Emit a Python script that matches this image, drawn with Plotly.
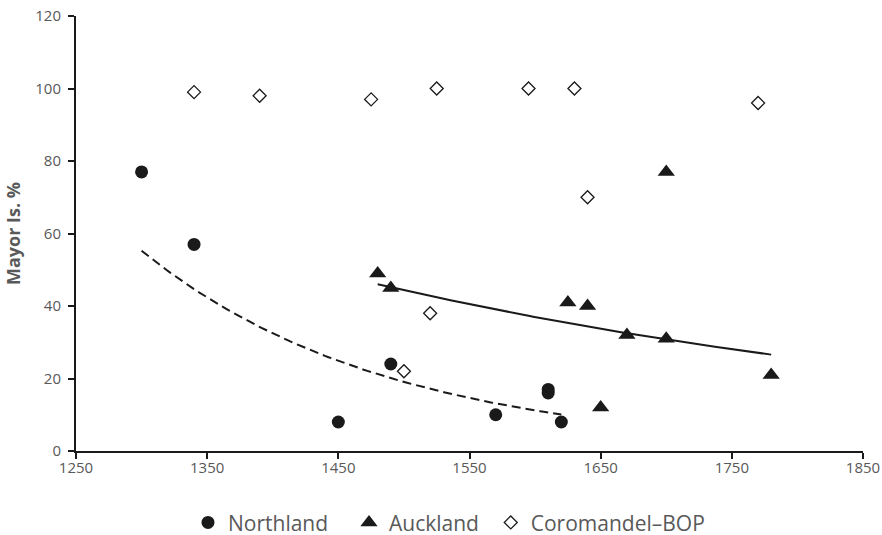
import numpy as np
import plotly.graph_objects as go

# Data
north_x = [1300, 1340, 1450, 1490, 1570, 1610, 1610, 1620]
north_y = [77, 57, 8, 24, 10, 17, 16, 8]

auck_x = [1480, 1490, 1625, 1640, 1650, 1670, 1700, 1700, 1780]
auck_y = [49, 45, 41, 40, 12, 32, 31, 77, 21]

coro_x = [1340, 1390, 1475, 1500, 1520, 1525, 1595, 1630, 1640, 1770]
coro_y = [99, 98, 97, 22, 38, 100, 100, 100, 70, 96]

x_ticks = [1250, 1350, 1450, 1550, 1650, 1750, 1850]
y_ticks = [0, 20, 40, 60, 80, 100, 120]

INK = "#1a1a1a"
GRAY = "#595959"
FONT = "Open Sans"


def exp_trend(xs, ys, n=120):
    xs = np.asarray(xs, float)
    ys = np.asarray(ys, float)
    b, a = np.polyfit(xs, np.log(ys), 1)
    xx = np.linspace(xs.min(), xs.max(), n)
    return xx, np.exp(a + b * xx)


fig = go.Figure()

nx, ny = exp_trend(north_x, north_y)
fig.add_trace(go.Scatter(x=nx, y=ny, mode="lines", showlegend=False,
                         line=dict(color=INK, width=2, dash="9px,5px"),
                         hoverinfo="skip"))
ax, ay = exp_trend(auck_x, auck_y)
fig.add_trace(go.Scatter(x=ax, y=ay, mode="lines", showlegend=False,
                         line=dict(color=INK, width=2),
                         hoverinfo="skip"))

fig.add_trace(go.Scatter(x=north_x, y=north_y, mode="markers", name="Northland",
                         legend="legend",
                         marker=dict(symbol="circle", size=13, color=INK)))
fig.add_trace(go.Scatter(x=auck_x, y=auck_y, mode="markers", name="Auckland",
                         legend="legend2",
                         marker=dict(symbol="triangle-up", size=15, color=INK)))
fig.add_trace(go.Scatter(x=coro_x, y=coro_y, mode="markers", name="Coromandel–BOP",
                         legend="legend3",
                         marker=dict(symbol="diamond-open", size=10, color=INK,
                                     line=dict(color=INK, width=1.3))))

leg_common = dict(orientation="h", xanchor="left", y=-0.165, yanchor="middle",
                  font=dict(family=FONT, size=21, color=GRAY),
                  itemwidth=30, bgcolor="rgba(0,0,0,0)")

fig.update_layout(
    width=882, height=535,
    margin=dict(l=76, r=19, t=16, b=84, autoexpand=False),
    paper_bgcolor="white", plot_bgcolor="white",
    font=dict(family=FONT, color=GRAY, size=15),
    showlegend=True,
    legend=dict(x=0.1423, **leg_common),
    legend2=dict(x=0.3469, **leg_common),
    legend3=dict(x=0.5270, **leg_common),
    xaxis=dict(range=[1250, 1850], tickvals=x_ticks, ticktext=[str(v) for v in x_ticks],
               showgrid=False, zeroline=False, showline=True, linecolor=INK, linewidth=2,
               ticks="outside", ticklen=6, tickwidth=2, tickcolor=INK,
               ticklabelstandoff=-4, ticklabeloverflow="allow",
               tickfont=dict(family=FONT, size=15, color=GRAY)),
    yaxis=dict(range=[0, 120], tickvals=y_ticks, ticktext=[str(v) for v in y_ticks],
               showgrid=False, zeroline=False, showline=True, linecolor=INK, linewidth=2,
               ticks="outside", ticklen=6, tickwidth=2, tickcolor=INK,
               ticklabelstandoff=4, ticklabeloverflow="allow",
               tickfont=dict(family=FONT, size=15, color=GRAY),
               title=dict(text="<b>Mayor Is. %</b>", standoff=10,
                          font=dict(family=FONT, size=18, color=GRAY))),
)

# remove the default 8px page margin so the figure sits at the window's corner
fig.write_html("out.html",
               config={"displayModeBar": False},
               post_script="document.body.style.margin='0';"
                           "document.body.style.overflow='hidden';")
